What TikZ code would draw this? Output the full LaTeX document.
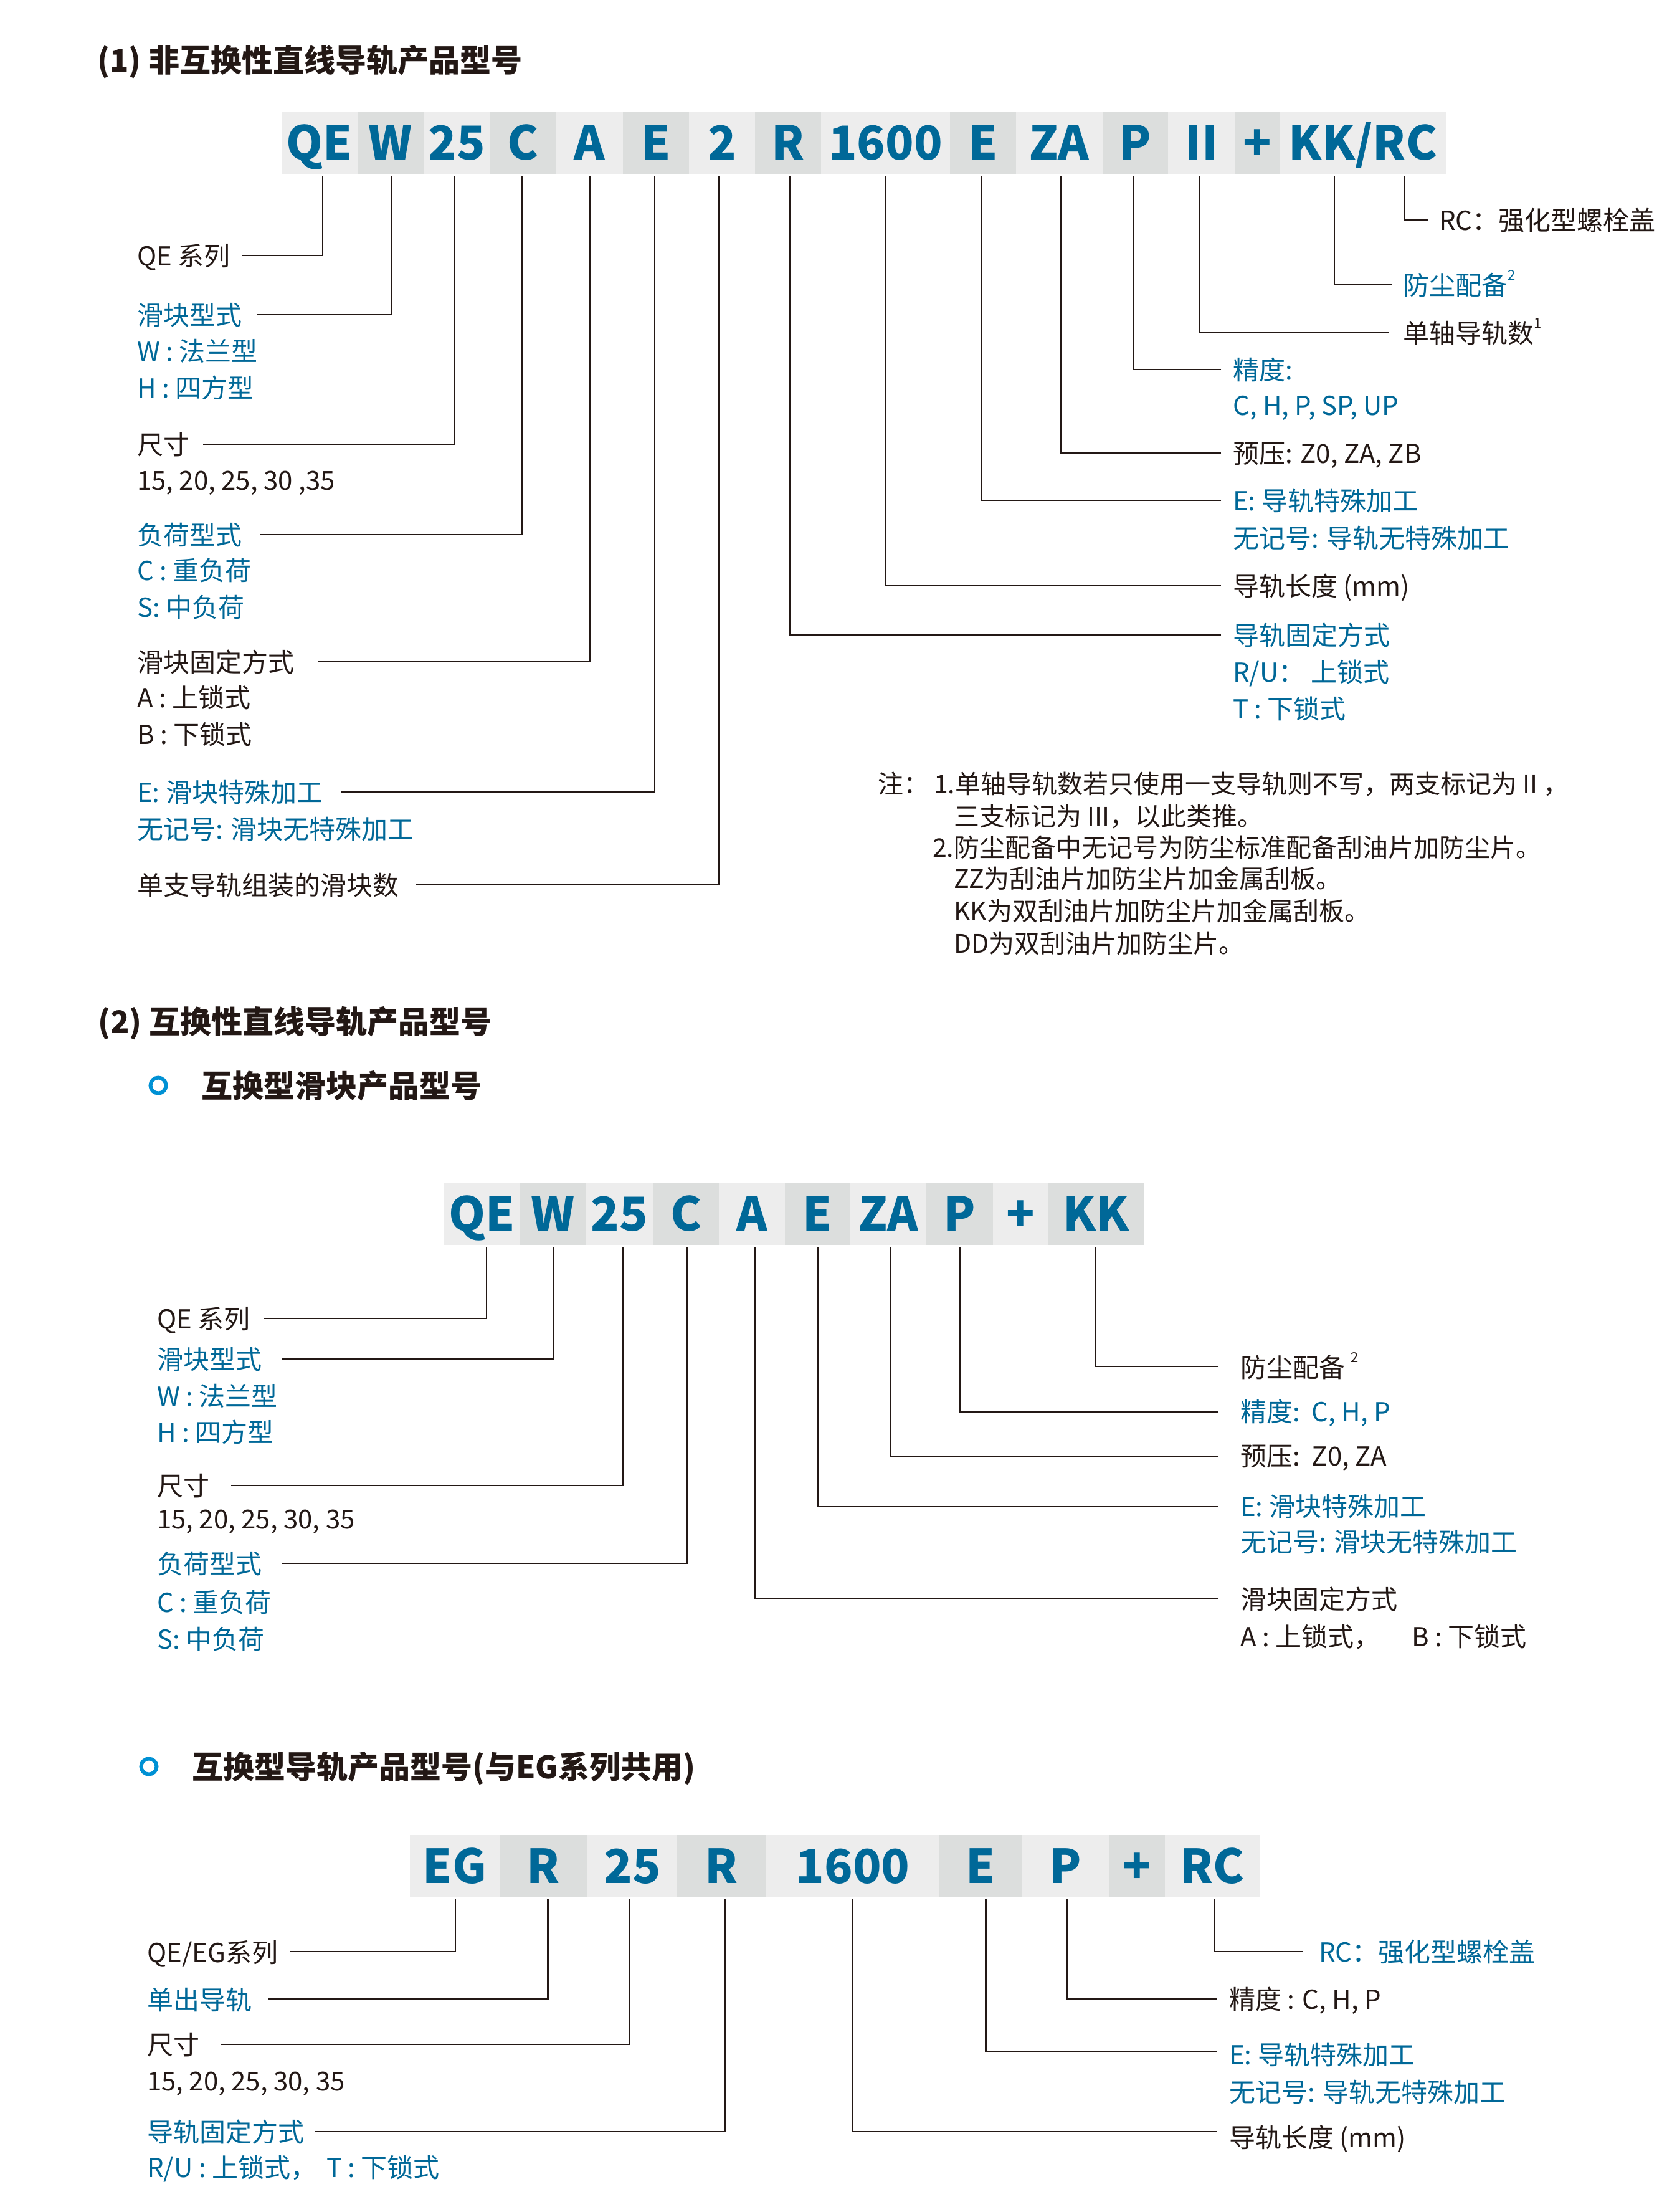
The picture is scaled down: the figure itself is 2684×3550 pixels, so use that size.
\documentclass[tikz,border=0pt]{standalone}
\usepackage{fontspec}
\setmainfont{Noto Sans CJK SC}
\definecolor{ink}{RGB}{35,24,21}
\definecolor{blu}{RGB}{0,104,152}
\definecolor{ringc}{RGB}{0,145,212}
\definecolor{cl}{RGB}{237,237,237}
\definecolor{cd}{RGB}{220,222,221}
\newcommand\labf{\fontsize{42}{50}\selectfont}
\newcommand\ttlf{\fontsize{50}{60}\selectfont\bfseries}
\newcommand\barf{\fontsize{75}{80}\selectfont\bfseries}
\newcommand\notef{\fontsize{41}{50}\selectfont}
\newcommand\sups[1]{\raisebox{0.55em}{\fontsize{22}{22}\selectfont #1}}
\newcommand\barcell[6]{%
  \pgfmathsetmacro\cx{(#2+#3)/2}%
  \node[#5, minimum width={#3pt-#2pt}] (#1) at (\cx,#4) {};%
  \node[bartxt] (#1t) at (\cx,#4+27) {#6};%
}
\begin{document}
\begin{tikzpicture}[x=1pt,y=-1pt,
  cellL/.style={fill=cl,draw=none,inner sep=0,outer sep=0,minimum height=100pt},
  cellD/.style={cellL,fill=cd},
  bartxt/.style={inner sep=0,anchor=base,text=blu,font=\barf},
  lab/.style={inner sep=0,anchor=base west,text=ink,font=\labf},
  lbl/.style={lab,text=blu},
  note/.style={inner sep=0,anchor=base west,text=ink,font=\notef},
  ttl/.style={inner sep=0,anchor=base west,text=ink,font=\ttlf},
  conn/.style={draw=ink,line width=2.7pt},
  bullet/.style={circle,draw=ringc,line width=6pt,minimum size=25pt,inner sep=0}
]
\fill[white] (0,0) rectangle (2684,3550);
\useasboundingbox (0,0) rectangle (2684,3550);

% ---------- Section 1 ----------
\node[ttl] (T1) at (156,115) {(1) 非互换性直线导轨产品型号};

\barcell{a1}{452}{574}{229}{cellL}{QE}
\barcell{a2}{574}{680}{229}{cellD}{W}
\barcell{a3}{680}{787}{229}{cellL}{25}
\barcell{a4}{787}{893}{229}{cellD}{C}
\barcell{a5}{893}{1000}{229}{cellL}{A}
\barcell{a6}{1000}{1106}{229}{cellD}{E}
\barcell{a7}{1106}{1212}{229}{cellL}{2}
\barcell{a8}{1212}{1318}{229}{cellD}{R}
\barcell{a9}{1318}{1525}{229}{cellL}{1600}
\barcell{a10}{1525}{1631}{229}{cellD}{E}
\barcell{a11}{1631}{1770}{229}{cellL}{ZA}
\barcell{a12}{1770}{1875}{229}{cellD}{P}
\barcell{a13}{1875}{1983}{229}{cellL}{II}
\barcell{a14}{1983}{2054}{229}{cellD}{+}
\barcell{a15}{2054}{2322}{229}{cellL}{KK/RC}

% left labels
\node[lab] (L1) at (220,426) {QE 系列};
\node[lbl] (L2) at (220,521) {滑块型式};
\node[lbl] (L2a) at (220,579) {W : 法兰型};
\node[lbl] (L2b) at (220,638) {H : 四方型};
\node[lab] (L3) at (220,729) {尺寸};
\node[lab] (L3a) at (220,786) {15, 20, 25, 30 ,35};
\node[lbl] (L4) at (220,874) {负荷型式};
\node[lbl] (L4a) at (220,931) {C : 重负荷};
\node[lbl] (L4b) at (220,990) {S: 中负荷};
\node[lab] (L5) at (220,1078) {滑块固定方式};
\node[lab] (L5a) at (220,1135) {A : 上锁式};
\node[lab] (L5b) at (220,1194) {B : 下锁式};
\node[lbl] (L6) at (220,1287) {E: 滑块特殊加工};
\node[lbl] (L6a) at (220,1346) {无记号: 滑块无特殊加工};
\node[lab] (L7) at (220,1436) {单支导轨组装的滑块数};

\coordinate (p1) at (388,410);
\coordinate (p2) at (413,505);
\coordinate (p3) at (326,713);
\coordinate (p4) at (417,858);
\coordinate (p5) at (510,1062);
\coordinate (p6) at (548,1271);
\coordinate (p7) at (668,1420);
\draw[conn] (p1) -| ([xshift=5pt,yshift=-3pt]a1.south);
\draw[conn] (p2) -| ([xshift=1pt,yshift=-3pt]a2.south);
\draw[conn] (p3) -| ([xshift=-4pt,yshift=-3pt]a3.south);
\draw[conn] (p4) -| ([xshift=-2pt,yshift=-3pt]a4.south);
\draw[conn] (p5) -| ([xshift=1pt,yshift=-3pt]a5.south);
\draw[conn] (p6) -| ([xshift=-2pt,yshift=-3pt]a6.south);
\draw[conn] (p7) -| ([xshift=-5pt,yshift=-3pt]a7.south);

% right labels
\node[lab] (R1) at (2310,369) {RC：强化型螺栓盖};
\node[lbl] (R2) at (2252,473) {防尘配备\sups{2}};
\node[lab] (R3) at (2252,550) {单轴导轨数\sups{1}};
\node[lbl] (R4) at (1979,609) {精度:};
\node[lbl] (R4a) at (1979,666) {C, H, P, SP, UP};
\node[lab] (R5) at (1979,743) {预压: Z0, ZA, ZB};
\node[lbl] (R6) at (1979,819) {E: 导轨特殊加工};
\node[lbl] (R6a) at (1979,879) {无记号: 导轨无特殊加工};
\node[lab] (R7) at (1979,956) {导轨长度 (mm)};
\node[lbl] (R8) at (1979,1035) {导轨固定方式};
\node[lbl] (R8a) at (1979,1094) {R/U： 上锁式};
\node[lbl] (R8b) at (1979,1153) {T : 下锁式};

\coordinate (q1) at (2292,353);
\coordinate (q2) at (2234,457);
\coordinate (q3) at (2229,534);
\coordinate (q4) at (1960,593);
\coordinate (q5) at (1960,727);
\coordinate (q6) at (1960,803);
\coordinate (q7) at (1960,940);
\coordinate (q8) at (1960,1019);
\draw[conn] (q1) -| ([xshift=67pt,yshift=-3pt]a15.south);
\draw[conn] (q2) -| ([xshift=-46pt,yshift=-3pt]a15.south);
\draw[conn] (q3) -| ([xshift=-3pt,yshift=-3pt]a13.south);
\draw[conn] (q4) -| ([xshift=-3pt,yshift=-3pt]a12.south);
\draw[conn] (q5) -| ([xshift=3pt,yshift=-3pt]a11.south);
\draw[conn] (q6) -| ([xshift=-3pt,yshift=-3pt]a10.south);
\draw[conn] (q7) -| ([yshift=-3pt]a9.south);
\draw[conn] (q8) -| ([xshift=3pt,yshift=-3pt]a8.south);

% notes
\node[note] (N0) at (1409,1273) {注：};
\node[note] (N1) at (1499,1273) {1.单轴导轨数若只使用一支导轨则不写，两支标记为 II ，};
\node[note] (N2) at (1531,1325) {三支标记为 III，以此类推。};
\node[note] (N3) at (1497,1375) {2.防尘配备中无记号为防尘标准配备刮油片加防尘片。};
\node[note] (N4) at (1531,1425) {ZZ为刮油片加防尘片加金属刮板。};
\node[note] (N5) at (1531,1477) {KK为双刮油片加防尘片加金属刮板。};
\node[note] (N6) at (1531,1529) {DD为双刮油片加防尘片。};

% ---------- Section 2 ----------
\node[ttl] (T2) at (157,1658) {(2) 互换性直线导轨产品型号};
\node[bullet] (B1) at (254,1742) {};
\node[ttl] (T3) at (323,1761) {互换型滑块产品型号};

\barcell{b1}{713}{835}{1948}{cellL}{QE}
\barcell{b2}{835}{941}{1948}{cellD}{W}
\barcell{b3}{941}{1048}{1948}{cellL}{25}
\barcell{b4}{1048}{1154}{1948}{cellD}{C}
\barcell{b5}{1154}{1260}{1948}{cellL}{A}
\barcell{b6}{1260}{1365}{1948}{cellD}{E}
\barcell{b7}{1365}{1487}{1948}{cellL}{ZA}
\barcell{b8}{1487}{1594}{1948}{cellD}{P}
\barcell{b9}{1594}{1683}{1948}{cellL}{+}
\barcell{b10}{1683}{1836}{1948}{cellD}{KK}

\node[lab] (M1) at (252,2132) {QE 系列};
\node[lbl] (M2) at (252,2197) {滑块型式};
\node[lbl] (M2a) at (252,2256) {W : 法兰型};
\node[lbl] (M2b) at (252,2314) {H : 四方型};
\node[lab] (M3) at (252,2400) {尺寸};
\node[lab] (M3a) at (252,2453) {15, 20, 25, 30, 35};
\node[lbl] (M4) at (252,2525) {负荷型式};
\node[lbl] (M4a) at (252,2587) {C : 重负荷};
\node[lbl] (M4b) at (252,2646) {S: 中负荷};

\coordinate (m1) at (424,2116);
\coordinate (m2) at (453,2181);
\coordinate (m3) at (371,2384);
\coordinate (m4) at (453,2509);
\draw[conn] (m1) -| ([xshift=7pt,yshift=-3pt]b1.south);
\draw[conn] (m2) -| ([yshift=-3pt]b2.south);
\draw[conn] (m3) -| ([xshift=5pt,yshift=-3pt]b3.south);
\draw[conn] (m4) -| ([xshift=2pt,yshift=-3pt]b4.south);

\node[lab] (S1) at (1991,2210) {防尘配备 \sups{2}};
\node[lbl] (S2) at (1991,2281) {精度:\ \ C, H, P};
\node[lab] (S3) at (1991,2352) {预压:\ \ Z0, ZA};
\node[lbl] (S4) at (1991,2433) {E: 滑块特殊加工};
\node[lbl] (S4a) at (1991,2490) {无记号: 滑块无特殊加工};
\node[lab] (S5) at (1991,2582) {滑块固定方式};
\node[lab] (S5a) at (1991,2642) {A : 上锁式，};
\node[lab] (S5b) at (2266,2642) {B : 下锁式};

\coordinate (n1) at (1956,2193);
\coordinate (n2) at (1956,2266);
\coordinate (n3) at (1956,2337);
\coordinate (n4) at (1956,2418);
\coordinate (n5) at (1956,2565);
\draw[conn] (n1) -| ([xshift=-1pt,yshift=-3pt]b10.south);
\draw[conn] (n2) -| ([yshift=-3pt]b8.south);
\draw[conn] (n3) -| ([xshift=3pt,yshift=-3pt]b7.south);
\draw[conn] (n4) -| ([xshift=1pt,yshift=-3pt]b6.south);
\draw[conn] (n5) -| ([xshift=5pt,yshift=-3pt]b5.south);

% ---------- Section 3 ----------
\node[bullet] (B2) at (239,2835) {};
\node[ttl] (T4) at (308,2854) {互换型导轨产品型号(与EG系列共用)};

\barcell{c1}{658}{802}{2995}{cellL}{EG}
\barcell{c2}{802}{943}{2995}{cellD}{R}
\barcell{c3}{943}{1087}{2995}{cellL}{25}
\barcell{c4}{1087}{1230}{2995}{cellD}{R}
\barcell{c5}{1230}{1508}{2995}{cellL}{1600}
\barcell{c6}{1508}{1641}{2995}{cellD}{E}
\barcell{c7}{1641}{1780}{2995}{cellL}{P}
\barcell{c8}{1780}{1870}{2995}{cellD}{+}
\barcell{c9}{1870}{2022}{2995}{cellL}{RC}

\node[lab] (U1) at (236,3149) {QE/EG系列};
\node[lbl] (U2) at (236,3225) {单出导轨};
\node[lab] (U3) at (236,3297) {尺寸};
\node[lab] (U3a) at (236,3355) {15, 20, 25, 30, 35};
\node[lbl] (U4) at (236,3437) {导轨固定方式};
\node[lbl] (U4a) at (236,3494) {R/U : 上锁式，};
\node[lbl] (U4b) at (524,3494) {T : 下锁式};

\coordinate (u1) at (466,3132);
\coordinate (u2) at (430,3208);
\coordinate (u3) at (354,3281);
\coordinate (u4) at (505,3421);
\draw[conn] (u1) -| ([xshift=1pt,yshift=-3pt]c1.south);
\draw[conn] (u2) -| ([xshift=7pt,yshift=-3pt]c2.south);
\draw[conn] (u3) -| ([xshift=-5pt,yshift=-3pt]c3.south);
\draw[conn] (u4) -| ([xshift=6pt,yshift=-3pt]c4.south);

\node[lbl] (V1) at (2117,3148) {RC：强化型螺栓盖};
\node[lab] (V2) at (1973,3224) {精度 : C, H, P};
\node[lbl] (V3) at (1973,3313) {E: 导轨特殊加工};
\node[lbl] (V3a) at (1973,3373) {无记号: 导轨无特殊加工};
\node[lab] (V4) at (1973,3446) {导轨长度 (mm)};

\coordinate (v1) at (2091,3132);
\coordinate (v2) at (1953,3208);
\coordinate (v3) at (1953,3292);
\coordinate (v4) at (1953,3421);
\draw[conn] (v1) -| ([xshift=3pt,yshift=-3pt]c9.south);
\draw[conn] (v2) -| ([xshift=3pt,yshift=-3pt]c7.south);
\draw[conn] (v3) -| ([xshift=8pt,yshift=-3pt]c6.south);
\draw[conn] (v4) -| ([xshift=-1pt,yshift=-3pt]c5.south);
\end{tikzpicture}
\end{document}
